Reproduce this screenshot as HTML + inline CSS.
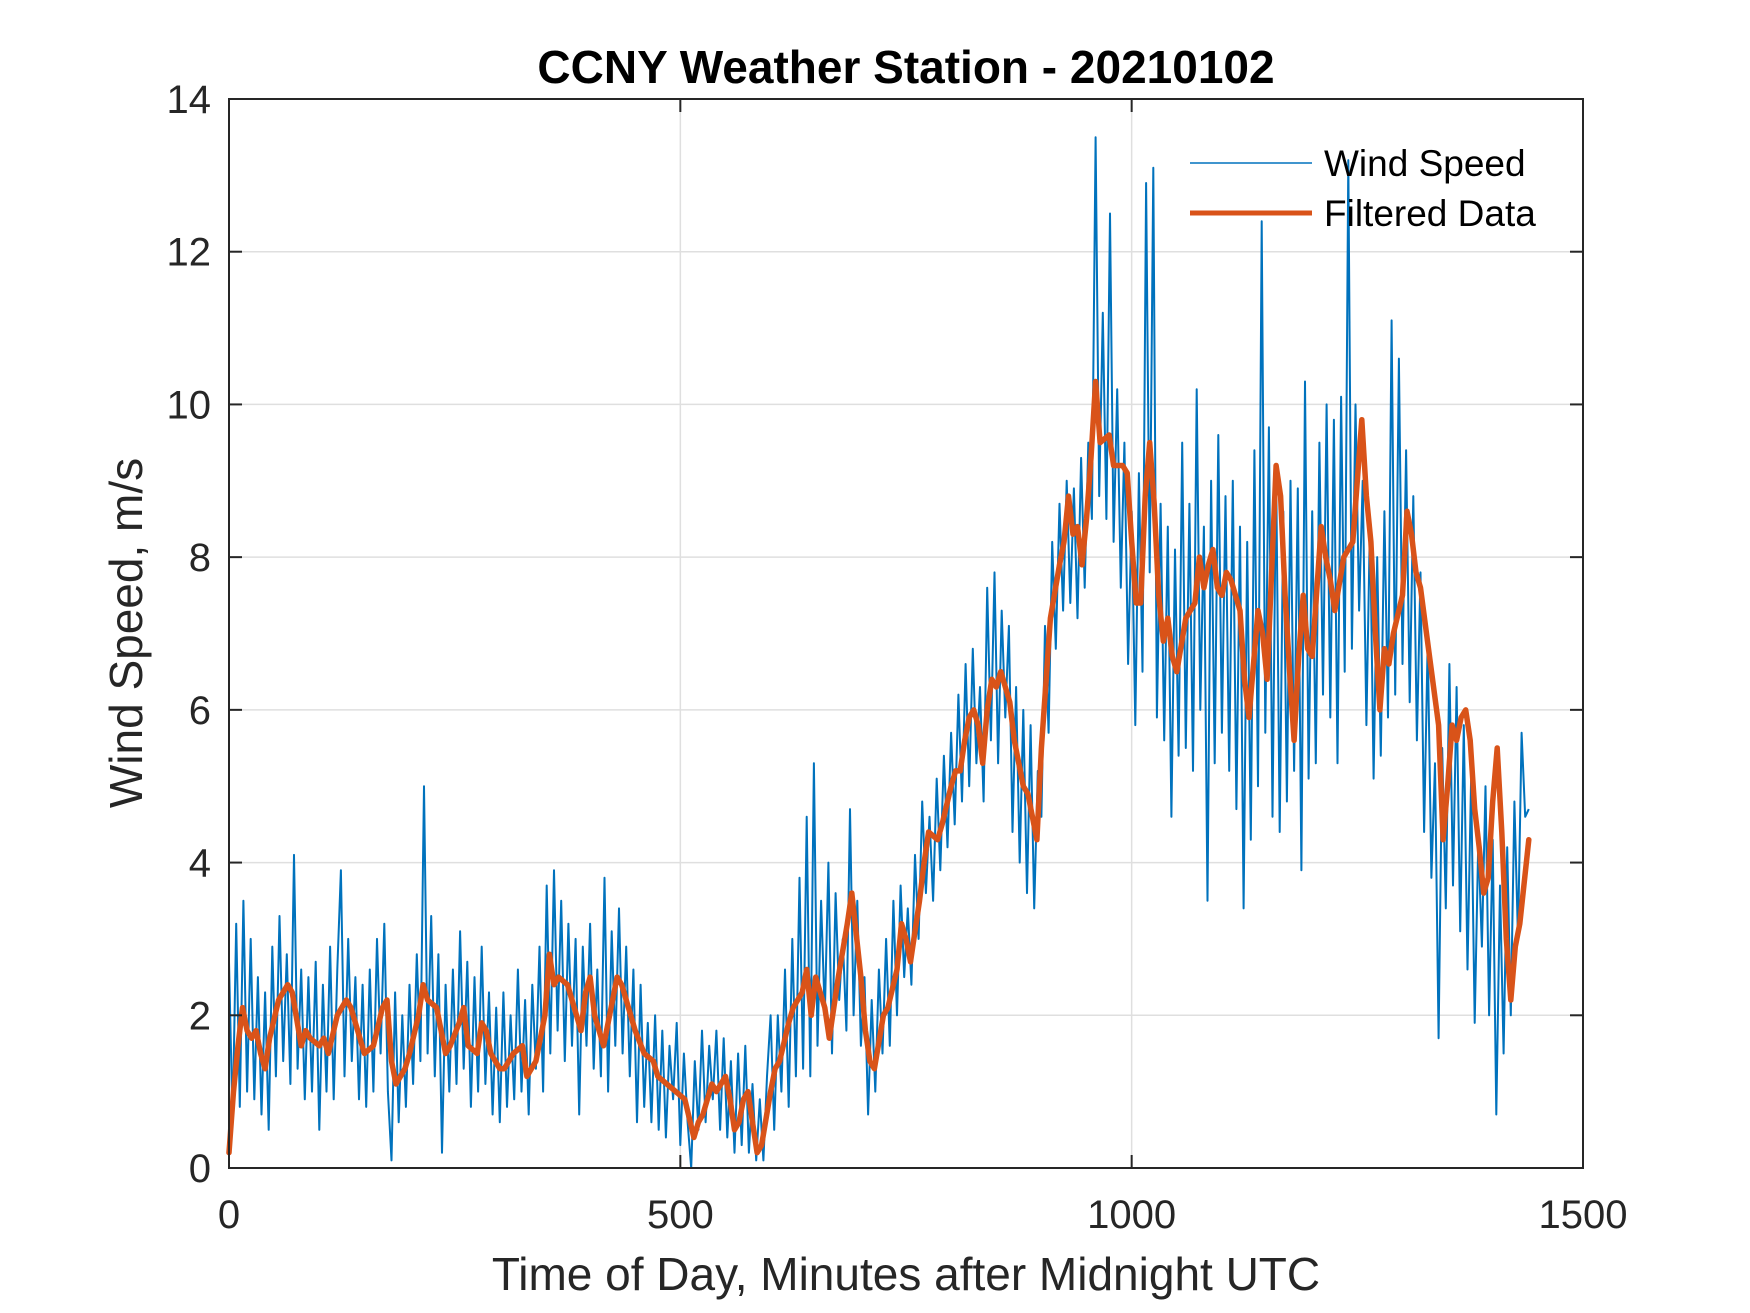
<!DOCTYPE html>
<html><head><meta charset="utf-8"><style>
html,body{margin:0;padding:0;background:#fff;}
svg{display:block;font-family:"Liberation Sans",Arial,sans-serif;}
</style></head><body>
<svg id="chart" width="1750" height="1313" viewBox="0 0 1750 1313" xmlns="http://www.w3.org/2000/svg">
<rect x="0" y="0" width="1750" height="1313" fill="#fff"/>
<g id="grid"></g>
<g id="series"></g>
<g id="axes"></g>
<text x="906" y="83" text-anchor="middle" font-size="46" font-weight="bold" fill="#000">CCNY Weather Station - 20210102</text>
<text x="906" y="1290" text-anchor="middle" font-size="46" fill="#262626">Time of Day, Minutes after Midnight UTC</text>
<text transform="translate(142,633) rotate(-90)" text-anchor="middle" font-size="46" fill="#262626">Wind Speed, m/s</text>
<g>
<line x1="1190" y1="163" x2="1312" y2="163" stroke="#0072BD" stroke-width="1.5"/>
<text x="1324" y="176" font-size="37" fill="#000">Wind Speed</text>
<line x1="1190" y1="213" x2="1312" y2="213" stroke="#D95319" stroke-width="5"/>
<text x="1324" y="226" font-size="37" fill="#000">Filtered Data</text>
</g>
</svg>
<script>
const xTicks = [0, 500, 1000, 1500];
const yTicks = [0, 2, 4, 6, 8, 10, 12, 14];
const rawStep = 4;
const rawValues = [
2.7,0.6,3.2,0.8,3.5,1.0,3.0,0.9,2.5,0.7,2.3,0.5,2.9,1.2,3.3,1.4,2.8,1.1,4.1,1.3,2.6,0.9,2.5,1.0,2.7,0.5,2.4,1.0,2.9,0.9,2.6,3.9,1.2,3.0,1.4,2.5,0.9,2.4,0.8,2.6,1.0,3.0,1.5,3.2,1.0,0.1,2.3,0.6,2.0,0.8,
2.4,1.1,2.8,1.4,5.0,1.5,3.3,1.2,2.8,0.2,2.4,1.0,2.6,1.1,3.1,1.3,2.7,0.8,2.5,1.0,2.9,1.1,2.3,0.7,2.1,0.6,2.3,0.8,2.0,0.9,2.6,1.0,2.2,0.7,2.4,1.3,2.9,1.0,3.7,1.5,3.9,1.8,3.5,1.4,3.2,1.6,3.0,0.7,2.9,1.6,
3.2,1.3,2.6,1.2,3.8,1.0,3.1,1.6,3.4,1.5,2.9,1.2,2.6,0.6,2.4,0.8,1.9,0.6,2.0,0.5,1.8,0.4,1.6,0.9,1.9,0.3,1.5,0.6,0.0,1.4,0.5,1.8,0.6,1.6,0.9,1.8,0.5,1.7,0.4,1.4,0.2,1.5,0.3,1.6,0.2,1.1,0.1,0.9,0.1,1.2,
2.0,0.5,2.0,1.0,2.6,0.8,3.0,1.2,3.8,1.3,4.6,1.2,5.3,1.6,3.5,2.0,4.0,1.5,3.6,2.2,3.0,1.8,4.7,2.0,3.5,1.6,2.5,0.7,2.2,1.0,2.6,1.5,3.0,1.6,3.5,2.0,3.7,2.5,3.4,2.4,4.1,3.0,4.8,3.6,4.6,3.5,5.1,3.9,5.4,4.2,
5.7,4.5,6.2,4.8,6.6,5.0,6.8,5.3,6.3,4.8,7.6,5.6,7.8,5.3,7.3,5.9,7.1,4.4,6.3,4.0,6.0,3.6,5.8,3.4,5.2,4.6,7.1,5.7,8.2,6.8,8.7,7.3,9.0,7.4,8.9,7.2,9.3,7.6,9.5,8.5,13.5,8.8,11.2,8.5,12.5,8.2,10.2,7.6,9.5,6.6,
8.6,5.8,9.1,6.5,12.9,7.8,13.1,5.9,8.7,5.6,8.4,4.6,8.1,5.4,9.5,5.5,8.7,5.2,10.2,6.0,8.4,3.5,9.0,5.3,9.6,5.7,8.8,5.2,9.0,4.7,8.4,3.4,8.2,4.3,9.4,5.0,12.4,5.7,9.7,4.6,9.2,4.4,8.6,4.8,9.0,5.2,8.9,3.9,10.3,5.1,
8.6,5.3,9.5,6.2,10.0,5.9,9.8,5.3,10.1,6.5,13.2,6.8,10.0,7.3,9.0,5.8,8.5,5.1,8.0,5.4,8.6,5.9,11.1,6.2,10.6,6.6,9.4,6.1,8.8,5.6,7.8,4.4,6.9,3.8,5.3,1.7,5.5,3.4,6.6,3.7,6.3,3.1,5.8,2.6,5.1,1.9,4.3,2.9,5.0,2.0,
4.3,0.7,3.7,1.5,4.2,2.0,4.8,3.0,5.7,4.6,4.7
];
const filtTimes = [0,5,10,15,20,25,30,35,40,45,55,65,70,80,85,90,100,105,110,120,130,135,145,150,160,170,175,180,185,195,200,210,215,220,230,240,245,255,260,265,275,280,285,290,300,305,315,325,330,340,350,355,360,365,375,385,390,395,400,405,410,415,425,430,435,445,450,460,470,475,485,495,505,515,520,525,535,540,550,555,560,565,570,575,580,585,590,600,605,610,620,625,635,640,645,650,660,665,675,685,690,700,705,710,715,725,730,740,745,750,755,765,770,775,785,790,800,805,810,815,820,825,830,835,840,845,850,855,860,865,870,880,885,895,900,910,920,925,930,935,940,945,950,955,960,965,975,980,990,995,1000,1005,1010,1015,1020,1025,1030,1035,1040,1045,1050,1060,1070,1075,1080,1085,1090,1095,1100,1105,1110,1120,1125,1130,1140,1145,1150,1160,1165,1170,1175,1180,1185,1190,1195,1200,1210,1215,1220,1225,1235,1245,1255,1260,1265,1270,1275,1280,1285,1290,1300,1305,1310,1315,1320,1330,1340,1345,1350,1355,1360,1365,1370,1375,1380,1385,1390,1395,1400,1405,1410,1415,1420,1425,1430,1440];
const filtValues = [0.2,1.0,1.6,2.1,1.8,1.7,1.8,1.5,1.3,1.7,2.2,2.4,2.3,1.6,1.8,1.7,1.6,1.7,1.5,2.0,2.2,2.1,1.7,1.5,1.6,2.1,2.2,1.4,1.1,1.3,1.5,2.0,2.4,2.2,2.1,1.5,1.6,1.9,2.1,1.6,1.5,1.9,1.8,1.5,1.3,1.3,1.5,1.6,1.2,1.4,2.0,2.8,2.4,2.5,2.4,2.0,1.8,2.3,2.5,2.0,1.8,1.6,2.2,2.5,2.4,2.0,1.8,1.5,1.4,1.2,1.1,1.0,0.9,0.4,0.6,0.7,1.1,1.0,1.2,0.9,0.5,0.6,0.9,1.0,0.6,0.2,0.3,1.0,1.3,1.4,1.9,2.1,2.3,2.6,2.0,2.5,2.1,1.7,2.5,3.2,3.6,2.5,1.8,1.4,1.3,2.0,2.1,2.6,3.2,3.0,2.7,3.5,4.0,4.4,4.3,4.5,5.0,5.2,5.2,5.6,5.9,6.0,5.8,5.3,6.0,6.4,6.3,6.5,6.3,6.1,5.6,5.0,4.9,4.3,5.5,7.2,7.9,8.2,8.8,8.3,8.4,7.9,8.5,9.3,10.3,9.5,9.6,9.2,9.2,9.1,8.2,7.4,7.4,8.8,9.5,8.7,7.5,6.9,7.2,6.7,6.5,7.2,7.4,8.0,7.6,7.9,8.1,7.6,7.5,7.8,7.7,7.3,6.4,5.9,7.3,7.0,6.4,9.2,8.8,7.5,6.5,5.6,6.7,7.5,6.8,6.7,8.4,8.0,7.7,7.3,8.0,8.2,9.8,8.8,8.2,7.0,6.0,6.8,6.6,7.0,7.5,8.6,8.3,7.8,7.6,6.7,5.8,4.3,5.0,5.8,5.6,5.9,6.0,5.6,4.7,4.2,3.6,3.8,4.8,5.5,4.4,3.0,2.2,2.9,3.2,4.3];

const PL = 229, PR = 1583, PT = 99, PB = 1168;
const NS = 'http://www.w3.org/2000/svg';
function xs(v){ return PL + (v - 0) / 1500 * (PR - PL); }
function ys(v){ return PB - (v - 0) / 14 * (PB - PT); }
function mk(tag, attrs, parent){
  const e = document.createElementNS(NS, tag);
  for (const k in attrs) e.setAttribute(k, attrs[k]);
  parent.appendChild(e);
  return e;
}
const grid = document.getElementById('grid');
const axes = document.getElementById('axes');
const series = document.getElementById('series');

xTicks.forEach(function(t){
  const x = xs(t);
  if (t > 0 && t < 1500) {
    const g = mk('line', {x1:x, y1:PT, x2:x, y2:PB, stroke:'#dfdfdf', 'stroke-width':1.5}, grid);
    
    
  }
  const tk1 = mk('line', {x1:x, y1:PB, x2:x, y2:PB-13, stroke:'#262626', 'stroke-width':2}, axes);
  
  
  const tk2 = mk('line', {x1:x, y1:PT, x2:x, y2:PT+13, stroke:'#262626', 'stroke-width':2}, axes);
  
  
  const lb = mk('text', {x:x, y:1228, 'text-anchor':'middle', 'font-size':40, fill:'#262626'}, axes);
  lb.textContent = String(t);
  
  
});
yTicks.forEach(function(t){
  const y = ys(t);
  if (t > 0 && t < 14) {
    const g = mk('line', {x1:PL, y1:y, x2:PR, y2:y, stroke:'#dfdfdf', 'stroke-width':1.5}, grid);
    
    
  }
  const tk1 = mk('line', {x1:PL, y1:y, x2:PL+13, y2:y, stroke:'#262626', 'stroke-width':2}, axes);
  
  
  const tk2 = mk('line', {x1:PR, y1:y, x2:PR-13, y2:y, stroke:'#262626', 'stroke-width':2}, axes);
  
  
  const lb = mk('text', {x:211, y:y+14, 'text-anchor':'end', 'font-size':40, fill:'#262626'}, axes);
  lb.textContent = String(t);
  
  
});
const box = mk('rect', {x:PL, y:PT, width:PR-PL, height:PB-PT, fill:'none', stroke:'#262626', 'stroke-width':2}, axes);



let d = '';
rawValues.forEach(function(v, i){
  d += (i ? 'L' : 'M') + xs(i * rawStep).toFixed(1) + ' ' + ys(v).toFixed(1);
});
const raw = mk('path', {d:d, fill:'none', stroke:'#0072BD', 'stroke-width':2, 'stroke-linejoin':'round'}, series);



let d2 = '';
filtValues.forEach(function(v, i){
  d2 += (i ? 'L' : 'M') + xs(filtTimes[i]).toFixed(1) + ' ' + ys(v).toFixed(1);
});
const filt = mk('path', {d:d2, fill:'none', stroke:'#D95319', 'stroke-width':5.5, 'stroke-linejoin':'round', 'stroke-linecap':'round'}, series);


</script>
</body></html>
